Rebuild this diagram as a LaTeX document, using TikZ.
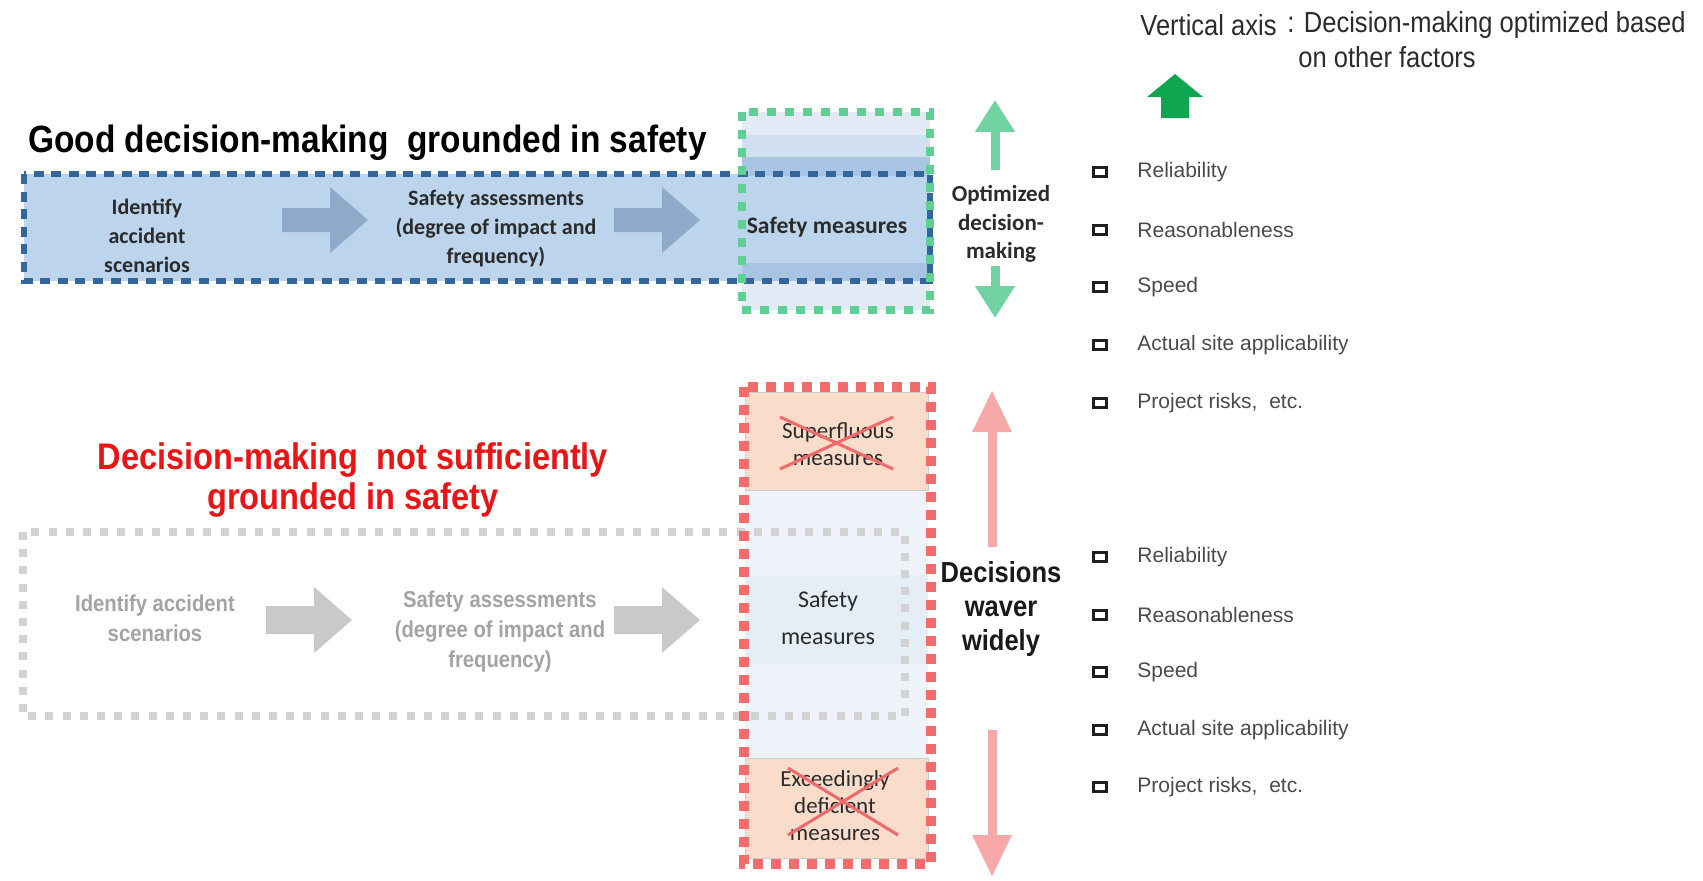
\documentclass[tikz,border=0pt]{standalone}
\usepackage{fontspec}
\setmainfont{Liberation Sans}
\newfontfamily\condfont[FakeStretch=0.88]{Liberation Sans}
\newfontfamily\calfont{Carlito}
\usetikzlibrary{arrows.meta}

\definecolor{boxblue}{HTML}{BCD5ED}
\definecolor{bandvlight}{HTML}{E2EBF5}
\definecolor{bandlight}{HTML}{D1E0F0}
\definecolor{bandmed}{HTML}{A8C4E2}
\definecolor{dashblue}{HTML}{33679B}
\definecolor{dashgreen}{HTML}{5FCF93}
\definecolor{mint}{HTML}{72D3A2}
\definecolor{dashred}{HTML}{F36B6B}
\definecolor{pinkarrow}{HTML}{F7A9A9}
\definecolor{dashgray}{HTML}{D2D2D2}
\definecolor{peach}{HTML}{F9DCCA}
\definecolor{paleblue}{HTML}{EEF3F9}
\definecolor{safeband}{HTML}{E5EDF6}
\definecolor{arrowblue}{HTML}{8EAAC8}
\definecolor{arrowgray}{HTML}{C9C9C9}
\definecolor{crossred}{HTML}{EF6A6A}
\definecolor{titlered}{HTML}{EB1414}
\definecolor{axisgreen}{HTML}{0FA650}
\definecolor{darktext}{HTML}{2B2B2B}
\definecolor{graytext}{HTML}{A3A3A3}
\definecolor{listtext}{HTML}{4A4A4A}

% flat block arrow: left x, centre y, body half-height, colour
\newcommand\mkblockarrow[4]{%
  \fill[#4] (#1,#2) ++(0,-#3) -- ++(48,0) -- ++(0,{-(33-#3)}) -- ++(38,33)
    -- ++(-38,33) -- ++(0,{-(33-#3)}) -- ++(-48,0) -- cycle;}

\tikzset{
  bluebox/.style={draw=dashblue, line width=3pt, dash pattern=on 5pt off 3.8pt},
  greenbox/.style={draw=dashgreen, line width=4pt, dash pattern=on 4.5pt off 4.5pt},
  redbox/.style={draw=dashred, line width=5pt, dash pattern=on 5pt off 4pt},
  graybox/.style={draw=dashgray, line width=4pt, dash pattern=on 4pt off 4.6pt},
  boxtxt/.style={font=\calfont\bfseries\fontsize{11}{14.5}\selectfont, text=darktext, align=center, inner sep=0pt},
  greytxt/.style={font=\condfont\bfseries\fontsize{11.5}{15}\selectfont, text=graytext, align=center, inner sep=0pt},
  measuretxt/.style={font=\calfont\fontsize{11.5}{13.5}\selectfont, text=darktext, align=center, inner sep=0pt},
  headtxt/.style={font=\condfont\bfseries\fontsize{19}{20}\selectfont, text=black, inner sep=0pt},
  redhead/.style={font=\condfont\bfseries\fontsize{18.5}{20}\selectfont, text=titlered, align=center, inner sep=0pt},
  sidetxt/.style={font=\condfont\bfseries\fontsize{14.5}{17}\selectfont, text=black!90, align=center, inner sep=0pt},
  axistxt/.style={font=\condfont\fontsize{14.5}{16}\selectfont, text=darktext, inner sep=0pt},
  itemtxt/.style={font=\fontsize{10.5}{12}\selectfont, text=listtext, inner sep=0pt, anchor=west},
  bullet/.style={draw=black!88, line width=1.6pt, fill=white, minimum width=6.5pt, minimum height=4.6pt, inner sep=0pt},
  mintarrow/.style={draw=mint, line width=4.5pt, -{Triangle[width=19pt,length=16pt]}},
  pinkarr/.style={draw=pinkarrow, line width=4.5pt, -{Triangle[width=18.5pt,length=21pt]}},
  cross/.style={draw=crossred, line width=1.5pt},
}

\begin{document}
\begin{tikzpicture}[x=0.5pt,y=-0.5pt]
\useasboundingbox (0,0) rectangle (1703,880);

% ---------- upper row: process grounded in safety ----------
\fill[boxblue] (24,174) rectangle (930,281);
\fill[bandvlight] (742,112) rectangle (930,135);
\fill[bandlight] (742,135) rectangle (930,157);
\fill[bandmed] (742,157) rectangle (930,176);
\fill[bandmed] (742,263) rectangle (930,281);
\fill[bandvlight] (742,281) rectangle (930,310);

\mkblockarrow{282}{220}{12}{arrowblue}
\mkblockarrow{614}{220}{12}{arrowblue}

\draw[bluebox] (24,174) rectangle (930,281);
\draw[greenbox] (742,112) rectangle (930,310);

\node[headtxt, anchor=west] (goodTitle) at (28,143) {Good decision-making\ \ grounded in safety};
\node[boxtxt] (identTop) at (147,236) {Identify\\accident\\scenarios};
\node[boxtxt] (assessTop) at (496,229) {Safety assessments\\(degree of impact and\\frequency)};
\node[boxtxt, font=\calfont\bfseries\fontsize{11.8}{14}\selectfont] (measTop) at (827,227) {Safety measures};

\node[boxtxt, font=\calfont\bfseries\fontsize{11.5}{14.2}\selectfont] (optText) at (1001,224) {Optimized\\decision-\\making};
\coordinate (optUpFrom) at (995,170);
\coordinate (optUpTo) at (995,100);
\coordinate (optDownFrom) at (995,266);
\coordinate (optDownTo) at (995,318);
\draw[mintarrow] (optUpFrom) -- (optUpTo);
\draw[mintarrow] (optDownFrom) -- (optDownTo);

% ---------- lower row: process not grounded in safety ----------
\fill[peach] (745,392) rectangle (928,490);
\fill[paleblue] (745,490) rectangle (928,758);
\fill[safeband] (745,575) rectangle (928,665);
\fill[peach] (745,758) rectangle (928,858);
\draw[gray!40, line width=0.5pt] (745,392) rectangle (928,490);
\draw[gray!40, line width=0.5pt] (745,758) rectangle (928,858);

\mkblockarrow{266}{620}{14}{arrowgray}
\mkblockarrow{614}{620}{14}{arrowgray}

\draw[graybox] (23,532) rectangle (905,716);
\draw[redbox] (744,387) rectangle (931,864);

\node[redhead] (badTitle) at (353,480) {Decision-making\ \ not sufficiently\\grounded in safety};
\node[greytxt] (identLow) at (155,618) {Identify accident\\scenarios};
\node[greytxt] (assessLow) at (500,632) {Safety assessments\\(degree of impact and\\frequency)};

\node[measuretxt] (superfluous) at (838,444) {Superfluous\\measures};
\node[measuretxt, font=\calfont\fontsize{12}{18.5}\selectfont] (measLow) at (828,618) {Safety\\measures};
\node[measuretxt] (deficient) at (835,806) {Exceedingly\\deficient\\measures};

\coordinate (xa1) at (780,417); \coordinate (xa2) at (893,469);
\coordinate (xa3) at (780,469); \coordinate (xa4) at (893,417);
\draw[cross] (xa1) -- (xa2);
\draw[cross] (xa3) -- (xa4);
\coordinate (xb1) at (788,768); \coordinate (xb2) at (898,835);
\coordinate (xb3) at (788,835); \coordinate (xb4) at (898,768);
\draw[cross] (xb1) -- (xb2);
\draw[cross] (xb3) -- (xb4);

\node[sidetxt] (waver) at (1001,609) {Decisions\\waver\\widely};
\coordinate (wUpFrom) at (992,547);
\coordinate (wUpTo) at (992,390);
\coordinate (wDownFrom) at (992,730);
\coordinate (wDownTo) at (992,877);
\draw[pinkarr] (wUpFrom) -- (wUpTo);
\draw[pinkarr] (wDownFrom) -- (wDownTo);

% ---------- legend ----------
\node[axistxt, anchor=west] (axisLabel) at (1140,25) {Vertical axis};
\node[axistxt, anchor=west] (axisDesc) at (1287,25) {: Decision-making optimized based};
\node[axistxt, anchor=west] (axisDesc2) at (1298,57) {on other factors};
\fill[axisgreen] (1175,74) -- (1203,97) -- (1189,97) -- (1189,118)
  -- (1161,118) -- (1161,97) -- (1147,97) -- cycle;

\foreach \nm/\yy/\txt in {a/172/Reliability, b/230/Reasonableness, c/287/Speed,
    d/345/Actual site applicability, e/403/{Project risks,\ \ etc.},
    f/557/Reliability, g/615/Reasonableness, h/672/Speed,
    i/730/Actual site applicability, j/787/{Project risks,\ \ etc.}}{
  \node[bullet] (bul\nm) at (1100,\yy) {};
  \node[itemtxt] (item\nm) at (1137,\yy) {\txt};
}
\end{tikzpicture}
\end{document}
